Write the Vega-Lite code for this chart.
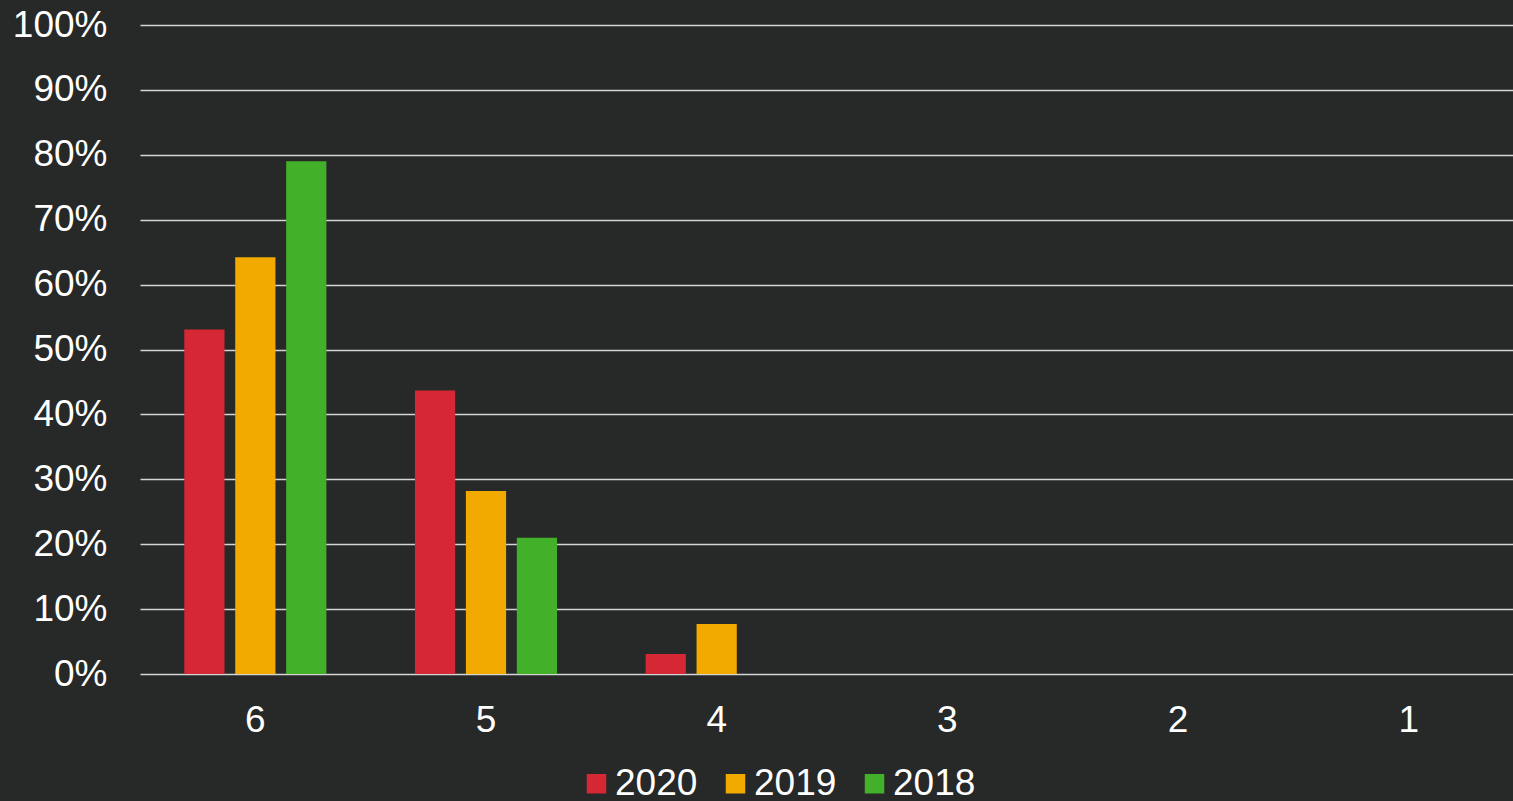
{
  "$schema": "https://vega.github.io/schema/vega-lite/v6.json",
  "autosize": {"type": "none"},
  "width": 1384,
  "height": 649,
  "padding": {"left": 140, "top": 25, "right": 0, "bottom": 127},
  "background": "#272828",
  "config": {
    "font": "Liberation Sans",
    "view": {"stroke": null},
    "axis": {"labelColor": "#ffffff", "labelFontSize": 37, "labelFont": "Liberation Sans"},
    "legend": {"labelColor": "#ffffff", "labelFontSize": 37, "labelFont": "Liberation Sans"}
  },
  "data": {
    "values": [
      {"grade": "6", "year": "2020", "share": 0.531},
      {"grade": "6", "year": "2019", "share": 0.642},
      {"grade": "6", "year": "2018", "share": 0.790},
      {"grade": "5", "year": "2020", "share": 0.437},
      {"grade": "5", "year": "2019", "share": 0.282},
      {"grade": "5", "year": "2018", "share": 0.210},
      {"grade": "4", "year": "2020", "share": 0.031},
      {"grade": "4", "year": "2019", "share": 0.077},
      {"grade": "4", "year": "2018", "share": 0},
      {"grade": "3", "year": "2020", "share": 0},
      {"grade": "3", "year": "2019", "share": 0},
      {"grade": "3", "year": "2018", "share": 0},
      {"grade": "2", "year": "2020", "share": 0},
      {"grade": "2", "year": "2019", "share": 0},
      {"grade": "2", "year": "2018", "share": 0},
      {"grade": "1", "year": "2020", "share": 0},
      {"grade": "1", "year": "2019", "share": 0},
      {"grade": "1", "year": "2018", "share": 0}
    ]
  },
  "mark": {"type": "bar"},
  "encoding": {
    "x": {
      "field": "grade",
      "type": "nominal",
      "sort": ["6", "5", "4", "3", "2", "1"],
      "scale": {"paddingInner": 0.384, "paddingOuter": 0.192},
      "axis": {"title": null, "labelAngle": 0, "ticks": false, "domain": false, "labelPadding": 28, "grid": false}
    },
    "xOffset": {
      "field": "year",
      "type": "nominal",
      "sort": ["2020", "2019", "2018"],
      "scale": {"paddingInner": 0.21, "paddingOuter": 0}
    },
    "y": {
      "field": "share",
      "type": "quantitative",
      "scale": {"domain": [0, 1], "nice": false},
      "axis": {
        "title": null,
        "format": ".0%",
        "values": [0, 0.1, 0.2, 0.3, 0.4, 0.5, 0.6, 0.7, 0.8, 0.9, 1],
        "ticks": false,
        "domain": false,
        "labelPadding": 33,
        "grid": true,
        "gridColor": "#d4d4d4",
        "gridWidth": 1.5,
        "gridOpacity": 1
      }
    },
    "color": {
      "field": "year",
      "type": "nominal",
      "sort": ["2020", "2019", "2018"],
      "scale": {"domain": ["2020", "2019", "2018"], "range": ["#d52834", "#f2aa00", "#43b02a"]},
      "legend": {
        "title": null,
        "orient": "none",
        "direction": "horizontal",
        "legendX": 438,
        "legendY": 740,
        "padding": 0,
        "symbolType": "square",
        "symbolSize": 380,
        "symbolStrokeWidth": 0,
        "symbolOpacity": 1,
        "labelOffset": 0,
        "columnPadding": 19,
        "labelLimit": 500
      }
    }
  }
}
